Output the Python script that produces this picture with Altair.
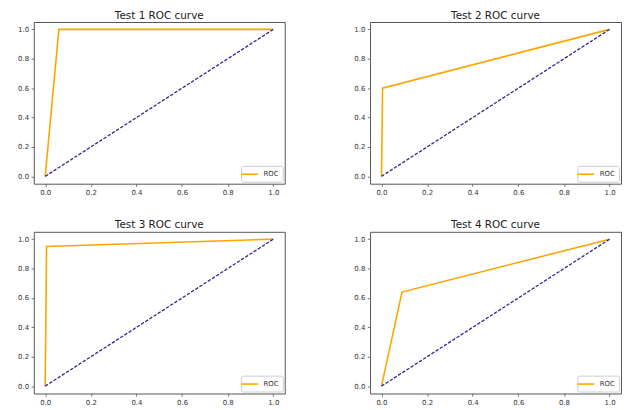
import altair as alt
import pandas as pd

# ---- data ----
TITLES = ["Test 1 ROC curve", "Test 2 ROC curve", "Test 3 ROC curve", "Test 4 ROC curve"]
FPR_1 = [0.0, 0.06, 1.0]
TPR_1 = [0.0, 1.0, 1.0]
FPR_2 = [0.0, 0.005, 1.0]
TPR_2 = [0.0, 0.60, 1.0]
FPR_3 = [0.0, 0.006, 1.0]
TPR_3 = [0.0, 0.95, 1.0]
FPR_4 = [0.0, 0.09, 1.0]
TPR_4 = [0.0, 0.64, 1.0]
DIAG_X = [0.0, 1.0]
DIAG_Y = [0.0, 1.0]
TICKS = [0.0, 0.2, 0.4, 0.6, 0.8, 1.0]
SERIES = "ROC"

FPRS = [FPR_1, FPR_2, FPR_3, FPR_4]
TPRS = [TPR_1, TPR_2, TPR_3, TPR_4]

W, H = 253, 163
FONT = "DejaVu Sans"

scale = alt.Scale(domain=[-0.05, 1.05], nice=False, zero=False)
xaxis = alt.Axis(title=None, values=TICKS, format=".1f")
yaxis = alt.Axis(title=None, values=TICKS, format=".1f")


def panel(i):
    df = pd.DataFrame({
        "fpr": FPRS[i],
        "tpr": TPRS[i],
        "series": [SERIES] * len(FPRS[i]),
        "order": list(range(len(FPRS[i]))),
    })
    diag = pd.DataFrame({"fpr": DIAG_X, "tpr": DIAG_Y})
    roc = alt.Chart(df).mark_line(strokeWidth=1.6).encode(
        x=alt.X("fpr:Q", scale=scale, axis=xaxis),
        y=alt.Y("tpr:Q", scale=scale, axis=yaxis),
        color=alt.Color(
            "series:N",
            scale=alt.Scale(domain=[SERIES], range=["orange"]),
            legend=alt.Legend(
                title=None,
                orient="bottom-right",
                offset=2.5,
                symbolType="M-2.1,0H2.1",
                symbolSize=64,
                symbolStrokeWidth=1.6,
                labelFontSize=7,
                labelFont=FONT,
                labelColor="#333",
                labelOffset=9,
                padding=3.5,
                strokeColor="#cccccc",
                fillColor="white",
                cornerRadius=2,
            ),
        ),
        order="order:Q",
    )
    line = alt.Chart(diag).mark_line(color="#2a2a90", strokeDash=[3.4, 1.6], strokeWidth=1.3).encode(
        x=alt.X("fpr:Q", scale=scale, axis=xaxis),
        y=alt.Y("tpr:Q", scale=scale, axis=yaxis),
    )
    return alt.layer(roc, line).properties(
        width=W, height=H,
        title=alt.TitleParams(TITLES[i]),
    )


chart = alt.concat(
    *[panel(i) for i in range(4)],
    columns=2,
    spacing={"row": 23.5, "column": 68},
).resolve_legend(color="independent").properties(
    padding={"left": 9, "top": 0.5, "right": 0, "bottom": 0},
).configure_view(
    stroke="#555", strokeWidth=1,
).configure_axis(
    grid=False, domain=False, tickSize=2.7, tickColor="#555", tickWidth=0.8,
    labelFontSize=7, labelFont=FONT, labelColor="#333", labelPadding=2.5,
).configure_title(
    font=FONT, fontSize=10.5, fontWeight="normal", color="#222", anchor="middle", offset=1,
)

chart.save("out.html", embed_options={"renderer": "svg", "actions": False})
